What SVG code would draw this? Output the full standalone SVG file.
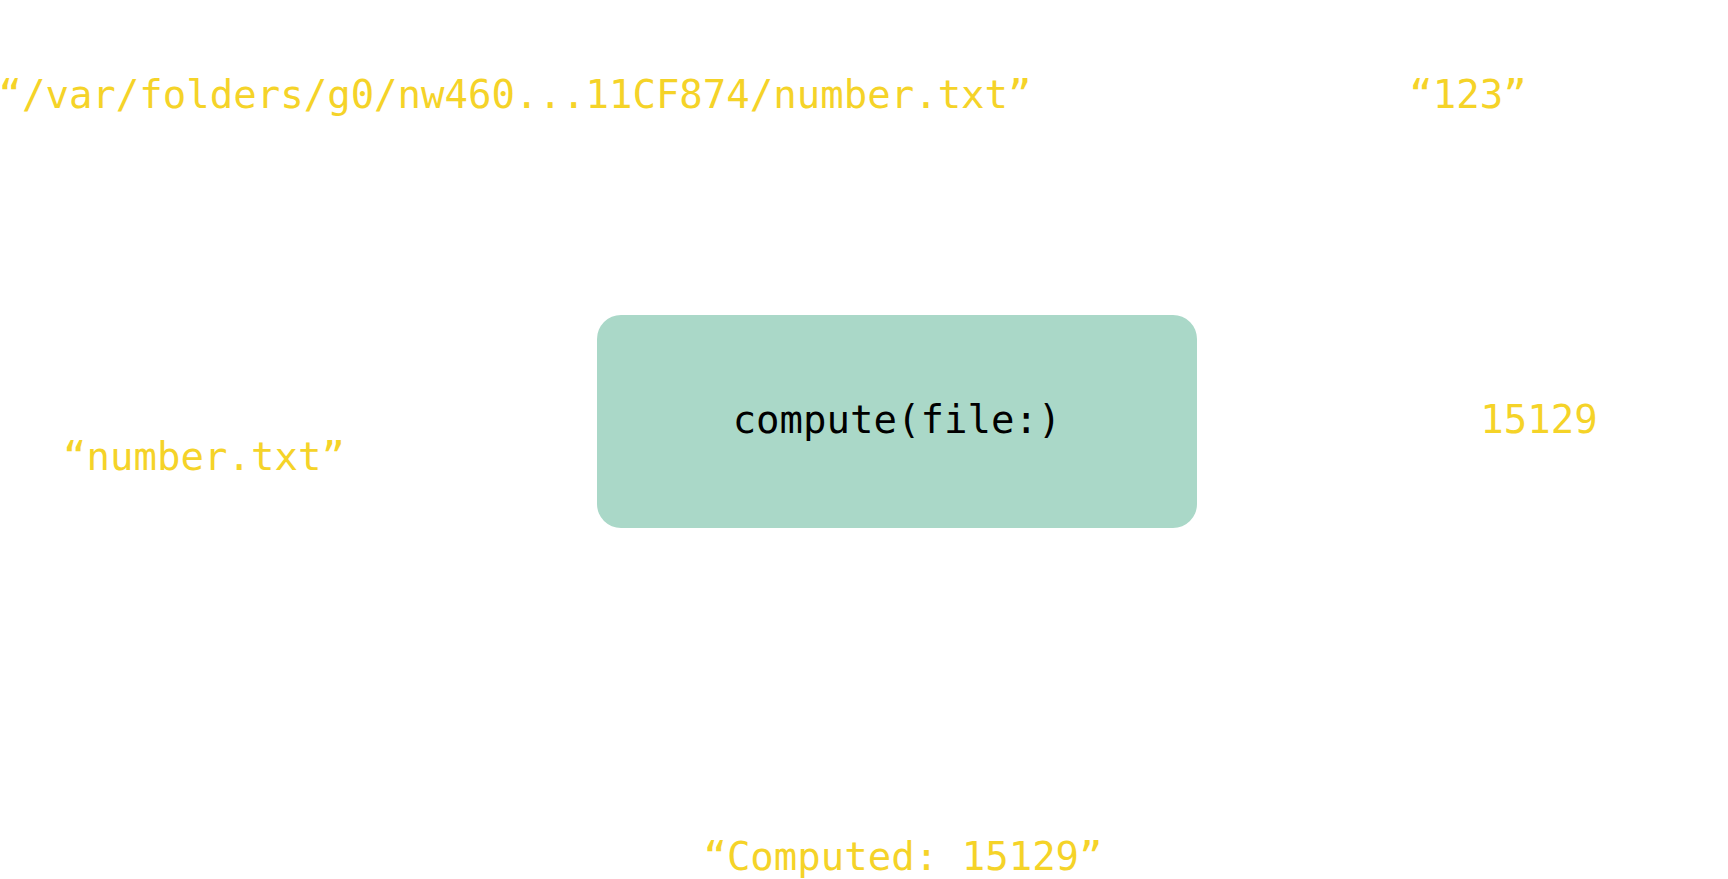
<svg xmlns="http://www.w3.org/2000/svg" width="1728" height="879" viewBox="0 0 1728 879">
<style>
.lbl{font-family:"DejaVu Sans Mono","Liberation Mono",monospace;font-size:39px;fill:#F5D328;text-anchor:middle}
.fn{font-family:"DejaVu Sans Mono","Liberation Mono",monospace;font-size:39px;fill:#000;text-anchor:middle}
.box{fill:#AAD8C8}
</style>
<rect width="1728" height="879" fill="#fff"/>
<g id="connectors"></g>
<g id="path-label"><text class="lbl" x="515" y="108">“/var/folders/g0/nw460...11CF874/number.txt”</text></g>
<g id="contents-label"><text class="lbl" x="1468" y="108">“123”</text></g>
<g id="compute"><rect class="box" x="597" y="315" width="600" height="213" rx="24"/><text class="fn" x="897" y="433">compute(file:)</text></g>
<g id="input-label"><text class="lbl" x="204" y="470">“number.txt”</text></g>
<g id="result-label"><text class="lbl" x="1539" y="433">15129</text></g>
<g id="output-label"><text class="lbl" x="903" y="870">“Computed: 15129”</text></g>
</svg>
